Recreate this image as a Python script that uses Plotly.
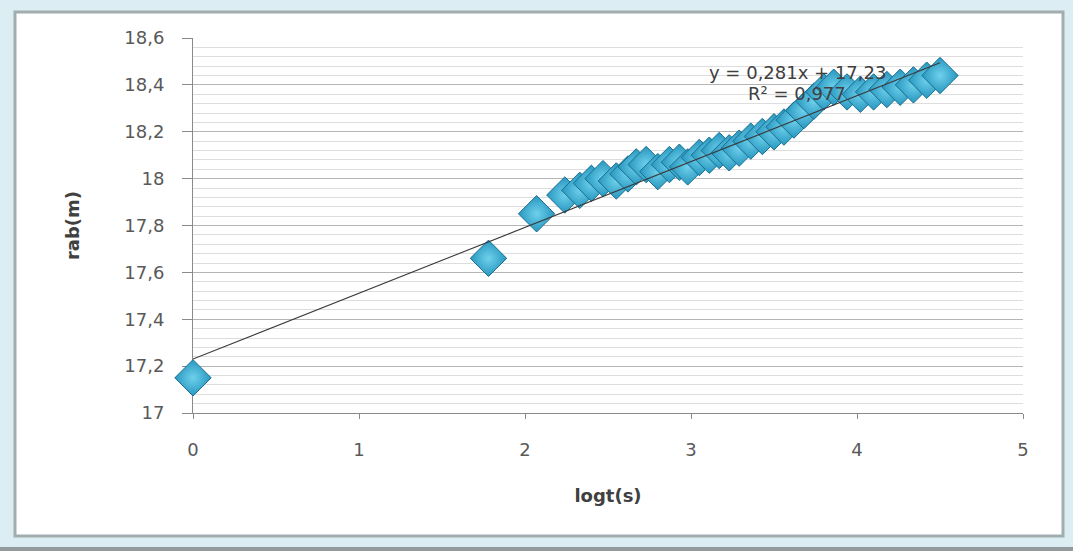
import plotly.graph_objects as go

# ---- data ----
logt = [0.00, 1.78, 2.07, 2.24, 2.33, 2.40, 2.47, 2.55, 2.62, 2.67, 2.73, 2.80,
        2.87, 2.93, 2.98, 3.05, 3.11, 3.17, 3.23, 3.29, 3.36, 3.43, 3.50, 3.56,
        3.62, 3.68, 3.74, 3.80, 3.86, 3.94, 4.02, 4.10, 4.18, 4.26, 4.34, 4.42, 4.50]
rab = [17.15, 17.66, 17.85, 17.93, 17.95, 17.98, 18.00, 17.99, 18.02, 18.05, 18.06, 18.03,
       18.06, 18.07, 18.05, 18.09, 18.10, 18.12, 18.11, 18.13, 18.16, 18.18, 18.20, 18.22,
       18.25, 18.29, 18.33, 18.37, 18.39, 18.37, 18.36, 18.37, 18.38, 18.39, 18.40, 18.42, 18.44]

slope = 0.281
intercept = 17.23
eq_text = "y = 0,281x + 17,23"
r2_text = "R² = 0,977"

y_tickvals = [17.0, 17.2, 17.4, 17.6, 17.8, 18.0, 18.2, 18.4, 18.6]
y_ticktext = ["17", "17,2", "17,4", "17,6", "17,8", "18", "18,2", "18,4", "18,6"]
x_tickvals = [0, 1, 2, 3, 4, 5]
x_ticktext = ["0", "1", "2", "3", "4", "5"]

# trendline computed from the regression coefficients over the data span
fit_x = [0.0, max(logt)]
fit_y = [intercept + slope * v for v in fit_x]

FONT = "DejaVu Sans"

fig = go.Figure()
fig.add_trace(go.Scatter(
    x=logt, y=rab, mode="markers", cliponaxis=False,
    marker=dict(symbol="diamond", size=28, color="#2796bf",
                gradient=dict(type="radial", color="#6fd1ec"),
                line=dict(color="#1a6f8f", width=1)),
    hoverinfo="x+y"))
fig.add_trace(go.Scatter(
    x=fit_x, y=fit_y, mode="lines", cliponaxis=False,
    line=dict(color="#3a3a3a", width=1.1), hoverinfo="skip"))

# frame: white panel with gray border on light blue background
PL, PR, PT, PB = 193, 1023, 38, 413
def px2x(p):
    return (p - PL) / (PR - PL)
def px2y(p):
    return (PB - p) / (PB - PT)

fig.add_shape(type="rect", xref="paper", yref="paper", layer="below",
              x0=px2x(15), x1=px2x(1063), y0=px2y(536), y1=px2y(12),
              fillcolor="white", line=dict(color="#a2adb0", width=3))
fig.add_shape(type="rect", xref="paper", yref="paper", layer="below",
              x0=px2x(0), x1=px2x(1073), y0=px2y(551), y1=px2y(547),
              fillcolor="#959a9c", line=dict(width=0))

fig.add_annotation(x=3.64, y=18.451, xref="x", yref="y", text=eq_text,
                   showarrow=False, font=dict(family=FONT, size=18, color="#404040"))
fig.add_annotation(x=3.64, y=18.362, xref="x", yref="y", text=r2_text,
                   showarrow=False, font=dict(family=FONT, size=18, color="#404040"))

fig.update_layout(
    width=1073, height=551,
    margin=dict(l=PL, r=1073 - PR, t=PT, b=551 - PB),
    paper_bgcolor="#dcedf3", plot_bgcolor="white",
    showlegend=False,
    font=dict(family=FONT, size=18, color="#595959"),
)
fig.update_xaxes(
    range=[0, 5], tickmode="array", tickvals=x_tickvals, ticktext=x_ticktext,
    showgrid=False, zeroline=False, showline=True, linecolor="#8a8a8a", linewidth=1,
    ticks="outside", ticklen=5, tickcolor="#8a8a8a", ticklabelstandoff=15,
    layer="below traces",
    title=dict(text="logt(s)", standoff=30,
               font=dict(family=FONT, size=18, color="#404040", weight="bold")),
)
fig.update_yaxes(
    range=[17, 18.6], tickmode="array", tickvals=y_tickvals, ticktext=y_ticktext,
    showgrid=True, gridcolor="#b5b5b5", gridwidth=1, zeroline=False,
    showline=True, linecolor="#8a8a8a", linewidth=1,
    ticks="outside", ticklen=10, tickcolor="#8a8a8a", ticklabelstandoff=14,
    minor=dict(tickmode="linear", tick0=17, dtick=0.04, showgrid=True,
               gridcolor="#dddddd", gridwidth=1, ticks=""),
    layer="below traces",
    title=dict(text="rab(m)", standoff=40,
               font=dict(family=FONT, size=18, color="#404040", weight="bold")),
)

fig.write_html("out.html",
               config={"displayModeBar": False},
               post_script="document.body.style.margin='0px';"
                           "document.body.style.overflow='hidden';")
